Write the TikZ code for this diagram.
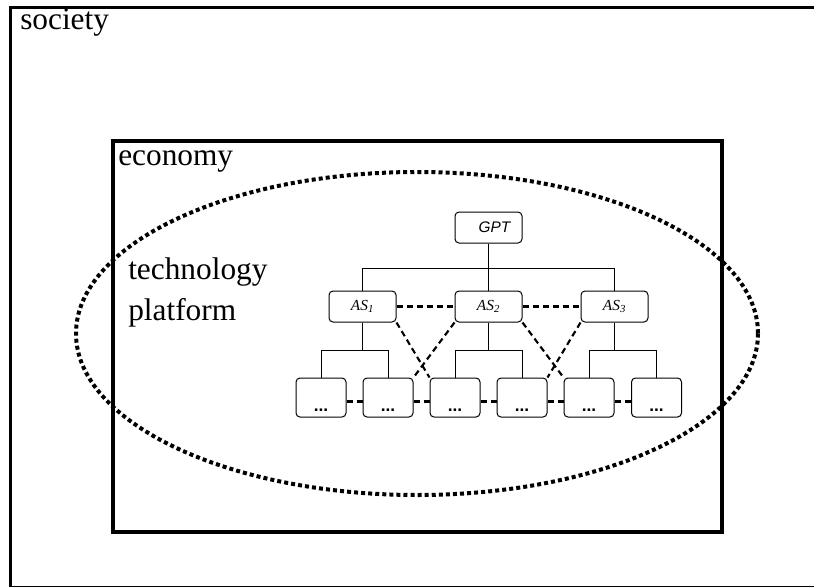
\documentclass[tikz,border=0pt]{standalone}
\usepackage{fontspec}
\setmainfont{Liberation Serif}
\newfontfamily\arialfont{Liberation Sans}

\tikzset{
  treebox/.style={draw, rounded corners=3pt, line width=0.75pt, inner sep=0pt},
  topbox/.style={treebox, minimum width=50.25pt, minimum height=23.25pt, font=\arialfont\fontsize{11.5}{13}\selectfont\itshape},
  subbox/.style={treebox, minimum width=37.5pt, minimum height=29.25pt, inner ysep=3pt, text height=21.75pt, text depth=1.5pt, font=\arialfont\fontsize{13}{15}\selectfont\bfseries},
  treeline/.style={line width=0.75pt},
  dashline/.style={line width=1.6pt, dash pattern=on 4.5pt off 3pt},
  bigtext/.style={anchor=base west, inner sep=0pt, font=\fontsize{23.5}{28}\selectfont}
}

\begin{document}
\begin{tikzpicture}[x=0.75pt,y=0.75pt,yscale=-1,xscale=1]
\useasboundingbox (0,0) rectangle (814,586);

%Shape: Rectangle (society), right side out of the picture
\begin{scope}
\clip (0,0) rectangle (814,586);
\draw [line width=2.25pt] (10.5,7.5) rectangle (900,587.5) ;
\end{scope}
%Shape: Rectangle (economy)
\draw [line width=3pt] (113,140.5) rectangle (721.5,531.5) ;
%Shape: Ellipse (technology platform)
\draw [line width=3pt, dash pattern=on 3pt off 2.3pt] (417,333.5) ellipse (341 and 161.5) ;

% Text Node
\node [bigtext] (society) at (20,29) {society};
% Text Node
\node [bigtext] (economy) at (118,165) {economy};
% Text Node
\node [bigtext] (tech) at (128,279) {technology};
% Text Node
\node [bigtext] (platform) at (128,320) {platform};

%Shape: GPT and application sectors
\node [topbox] (gpt) at (488.5,227.5) {\hspace*{9pt}GPT};
\node [topbox] (as1) at (362.5,306.5) {\rmfamily\itshape AS\textsubscript{1}};
\node [topbox] (as2) at (488.5,306.5) {\rmfamily\itshape AS\textsubscript{2}};
\node [topbox] (as3) at (614.5,306.5) {\rmfamily\itshape AS\textsubscript{3}};

%Shape: lower level boxes
\node [subbox] (b1) at (321,397.5) {...};
\node [subbox] (b2) at (388,397.5) {...};
\node [subbox] (b3) at (455,397.5) {...};
\node [subbox] (b4) at (522,397.5) {...};
\node [subbox] (b5) at (589,397.5) {...};
\node [subbox] (b6) at (656.5,397.5) {...};

%Straight Lines
\draw [treeline] (gpt.south) -- (as2.north) ;
\draw [treeline] (gpt.south) -- ++(0,24.5) -| (as1.north) ;
\draw [treeline] (gpt.south) -- ++(0,24.5) -| (as3.north) ;
\draw [treeline] (as1.south) -- ++(0,28) -| (b1.north) ;
\draw [treeline] (as1.south) -- ++(0,28) -| (b2.north) ;
\draw [treeline] (as2.south) -- ++(0,28) -| (b3.north) ;
\draw [treeline] (as2.south) -- ++(0,28) -| (b4.north) ;
\draw [treeline] (as3.south) -- ++(0,28) -| (b5.north) ;
\draw [treeline] (as3.south) -- ++(0,28) -| (b6.north) ;

%Dashed Lines
\draw [dashline] (as1.east) -- (as2.west) ;
\draw [dashline] (as2.east) -- (as3.west) ;
\draw [dashline] (as1.south east) -- (b3.north west) ;
\draw [dashline] (as2.south west) -- (b2.north east) ;
\draw [dashline] (as2.south east) -- (b5.north west) ;
\draw [dashline] (as3.south west) -- (b4.north east) ;
\draw [dashline] ([yshift=3pt]b1.east) -- ([yshift=3pt]b2.west) ;
\draw [dashline] ([yshift=3pt]b2.east) -- ([yshift=3pt]b3.west) ;
\draw [dashline] ([yshift=3pt]b3.east) -- ([yshift=3pt]b4.west) ;
\draw [dashline] ([yshift=3pt]b4.east) -- ([yshift=3pt]b5.west) ;
\draw [dashline] ([yshift=3pt]b5.east) -- ([yshift=3pt]b6.west) ;

\end{tikzpicture}
\end{document}
